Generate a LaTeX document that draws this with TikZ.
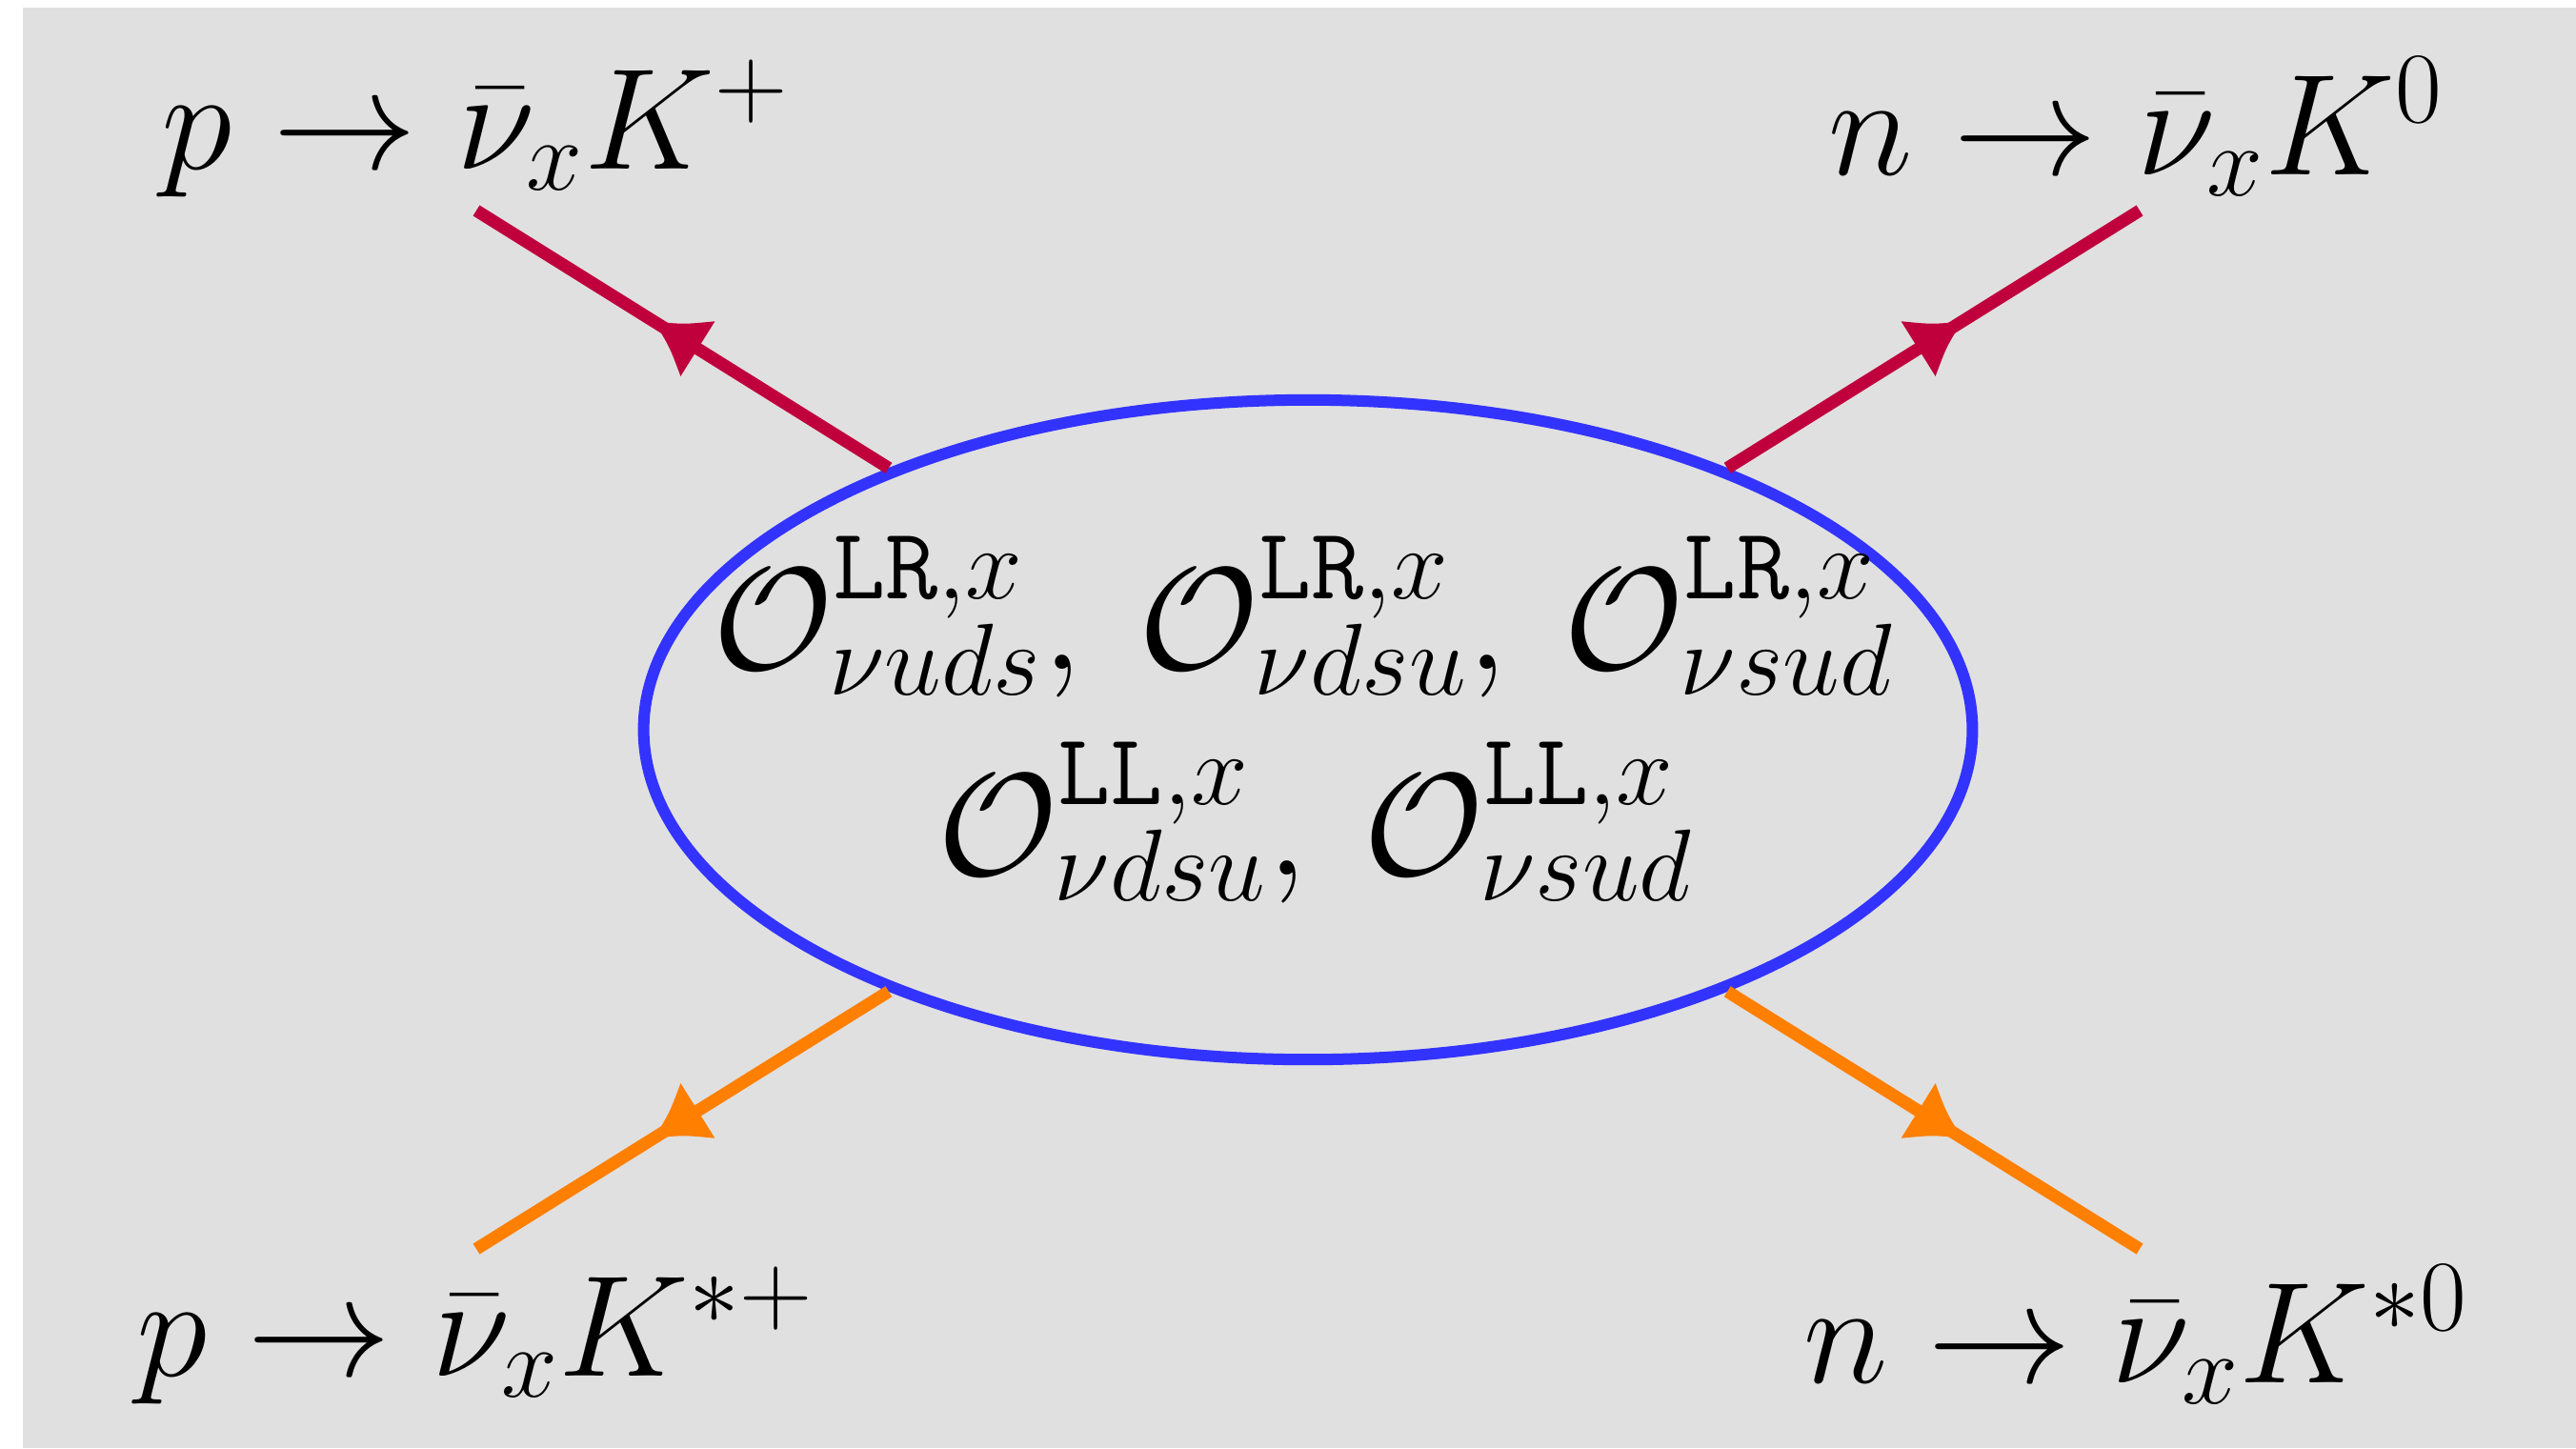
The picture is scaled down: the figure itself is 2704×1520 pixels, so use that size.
\RequirePackage{fix-cm}
\documentclass[tikz,border=0pt]{standalone}
\usetikzlibrary{decorations.markings,shapes.geometric}
\definecolor{lred}{RGB}{191,0,61}
\definecolor{lorange}{RGB}{255,127,0}
\definecolor{eblue}{RGB}{51,51,255}
\definecolor{bggray}{RGB}{224,224,224}
\begin{document}
\begin{tikzpicture}[x=0.01cm,y=-0.01cm,
  lbl/.style={font=\fontsize{43}{52}\selectfont, inner sep=0pt, anchor=base},
  opl/.style={font=\fontsize{43.5}{52}\selectfont, inner sep=0pt, anchor=base},
  leg/.style={color=#1, line width=0.13cm, postaction={decorate},
    decoration={markings, mark=at position 0.565 with {\fill (2,0) .. controls (-26,14) .. (-52,34) -- (-52,-34) .. controls (-26,-14) .. cycle;}}},
  blobstyle/.style={draw=eblue, line width=0.12cm, ellipse, minimum width=13.94cm, minimum height=6.92cm, inner sep=0pt}
]
\useasboundingbox (0,0) rectangle (2704,1520);
\fill[white] (0,0) rectangle (2704,1520);
\fill[bggray] (24,8) rectangle (2704,1520);

\coordinate (tl) at (500,221);
\coordinate (tr) at (2246,221);
\coordinate (bl) at (500,1311);
\coordinate (br) at (2246,1311);

\node[blobstyle] (blob) at (1373,766) {};

\draw[leg=lred] (blob) -- (tl);
\draw[leg=lred] (blob) -- (tr);
\draw[leg=lorange] (blob) -- (bl);
\draw[leg=lorange] (blob) -- (br);

\node[opl] (op1) at (1368,702) {$\mathcal{O}^{\mathtt{LR},x}_{\nu uds},\:\mathcal{O}^{\mathtt{LR},x}_{\nu dsu},\:\mathcal{O}^{\mathtt{LR},x}_{\nu sud}$};
\node[opl] (op2) at (1381,918) {$\mathcal{O}^{\mathtt{LL},x}_{\nu dsu},\:\mathcal{O}^{\mathtt{LL},x}_{\nu sud}$};

\node[lbl] (ltl) at (499,177) {$p\to\bar\nu_xK^{+}$};
\node[lbl] (ltr) at (2242,183) {$n\to\bar\nu_xK^{0}$};
\node[lbl] (lbll) at (499,1444) {$p\to\bar\nu_xK^{*+}$};
\node[lbl] (lbr) at (2242,1451) {$n\to\bar\nu_xK^{*0}$};
\end{tikzpicture}
\end{document}
